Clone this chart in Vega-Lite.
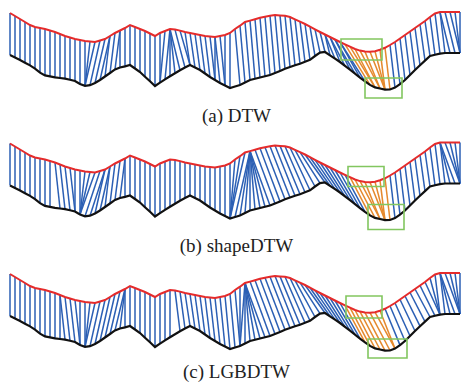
{
"$schema":"https://vega.github.io/schema/vega-lite/v6.json",
"padding":0,"spacing":30.5,"bounds":"flush",
"config":{"view":{"stroke":null},"title":{"font":"Liberation Serif","fontSize":19,"fontWeight":"normal","color":"#222","orient":"bottom","baseline":"alphabetic","dx":6}},
"datasets":{
"cur":[{"x":10,"ty":13,"by":55},{"x":15,"ty":16,"by":57.5},{"x":20,"ty":19,"by":60},{"x":25,"ty":22,"by":62.7},{"x":30,"ty":25,"by":65.4},{"x":35,"ty":27,"by":68.6},{"x":40,"ty":28,"by":72.6},{"x":45,"ty":29,"by":75.4},{"x":50,"ty":30.5,"by":76.4},{"x":55,"ty":32,"by":77.3},{"x":60,"ty":34,"by":78},{"x":65,"ty":36,"by":78.7},{"x":70,"ty":37.5,"by":79.8},{"x":75,"ty":39,"by":81},{"x":80,"ty":40,"by":84},{"x":85,"ty":41,"by":85.8},{"x":90,"ty":41.5,"by":85.2},{"x":95,"ty":42,"by":83},{"x":100,"ty":40.5,"by":80},{"x":105,"ty":39,"by":76.5},{"x":110,"ty":36,"by":73},{"x":115,"ty":33,"by":69.4},{"x":120,"ty":30.5,"by":67.5},{"x":125,"ty":28,"by":66.4},{"x":130,"ty":25,"by":65},{"x":135,"ty":27,"by":68.5},{"x":140,"ty":29,"by":72},{"x":145,"ty":31,"by":76.7},{"x":150,"ty":33.5,"by":81.3},{"x":155,"ty":36,"by":86},{"x":160,"ty":33,"by":82.7},{"x":165,"ty":31,"by":79.3},{"x":170,"ty":29,"by":76.2},{"x":175,"ty":29.6,"by":73.2},{"x":180,"ty":30.6,"by":70.2},{"x":185,"ty":32,"by":67.5},{"x":190,"ty":33,"by":65},{"x":195,"ty":34,"by":67.5},{"x":200,"ty":35,"by":70},{"x":205,"ty":36,"by":73.5},{"x":210,"ty":36.5,"by":77},{"x":215,"ty":37,"by":80},{"x":220,"ty":36,"by":83},{"x":225,"ty":35,"by":85.5},{"x":230,"ty":33,"by":88},{"x":235,"ty":29,"by":86.5},{"x":240,"ty":25.7,"by":85},{"x":245,"ty":22,"by":82.5},{"x":250,"ty":20.6,"by":80},{"x":255,"ty":19.2,"by":78.8},{"x":260,"ty":17.8,"by":77.5},{"x":265,"ty":16.7,"by":76.3},{"x":270,"ty":15.8,"by":75},{"x":275,"ty":15,"by":73},{"x":280,"ty":15.4,"by":70.9},{"x":285,"ty":15.8,"by":68.8},{"x":290,"ty":17,"by":67},{"x":295,"ty":19.3,"by":65.3},{"x":300,"ty":21.6,"by":63.7},{"x":305,"ty":24,"by":61.8},{"x":310,"ty":26.7,"by":59.8},{"x":315,"ty":29.4,"by":56},{"x":320,"ty":32,"by":52.6},{"x":325,"ty":34.5,"by":52},{"x":330,"ty":37,"by":55.3},{"x":335,"ty":39.5,"by":58.7},{"x":340,"ty":42,"by":62},{"x":345,"ty":44.4,"by":65.8},{"x":350,"ty":46.7,"by":69.7},{"x":355,"ty":49,"by":73.6},{"x":360,"ty":50.6,"by":77.6},{"x":365,"ty":51.6,"by":81.4},{"x":370,"ty":51.7,"by":84.9},{"x":375,"ty":51.2,"by":87.4},{"x":380,"ty":49.8,"by":88.5},{"x":385,"ty":47.8,"by":89.6},{"x":390,"ty":45,"by":89.5},{"x":395,"ty":42,"by":87.6},{"x":400,"ty":38.5,"by":84.1},{"x":405,"ty":35,"by":80},{"x":410,"ty":31.5,"by":75},{"x":415,"ty":28,"by":70},{"x":420,"ty":24.5,"by":65.2},{"x":425,"ty":21,"by":60.6},{"x":430,"ty":17,"by":56},{"x":435,"ty":13.5,"by":54.8},{"x":440,"ty":12,"by":53.7},{"x":445,"ty":12,"by":53},{"x":450,"ty":12,"by":53},{"x":455,"ty":12,"by":53},{"x":460,"ty":12,"by":53}],
"al":[
{"p":"a","t":10,"b":10,"c":"b"},{"p":"a","t":15,"b":15,"c":"b"},{"p":"a","t":20,"b":20,"c":"b"},{"p":"a","t":25,"b":25,"c":"b"},{"p":"a","t":30,"b":30,"c":"b"},{"p":"a","t":35,"b":35,"c":"b"},{"p":"a","t":40,"b":40,"c":"b"},{"p":"a","t":45,"b":45,"c":"b"},{"p":"a","t":50,"b":50,"c":"b"},{"p":"a","t":55,"b":55,"c":"b"},{"p":"a","t":60,"b":60,"c":"b"},{"p":"a","t":65,"b":65,"c":"b"},{"p":"a","t":70,"b":70,"c":"b"},{"p":"a","t":75,"b":75,"c":"b"},{"p":"a","t":80,"b":80,"c":"b"},{"p":"a","t":85,"b":85,"c":"b"},{"p":"a","t":90,"b":85,"c":"b"},{"p":"a","t":95,"b":85,"c":"b"},{"p":"a","t":100,"b":90,"c":"b"},{"p":"a","t":105,"b":95,"c":"b"},{"p":"a","t":110,"b":100,"c":"b"},{"p":"a","t":110,"b":105,"c":"b"},{"p":"a","t":115,"b":110,"c":"b"},{"p":"a","t":120,"b":115,"c":"b"},{"p":"a","t":120,"b":120,"c":"b"},{"p":"a","t":125,"b":125,"c":"b"},{"p":"a","t":130,"b":130,"c":"b"},{"p":"a","t":135,"b":135,"c":"b"},{"p":"a","t":140,"b":140,"c":"b"},{"p":"a","t":145,"b":145,"c":"b"},{"p":"a","t":150,"b":150,"c":"b"},{"p":"a","t":155,"b":155,"c":"b"},{"p":"a","t":160,"b":160,"c":"b"},{"p":"a","t":165,"b":160,"c":"b"},{"p":"a","t":170,"b":165,"c":"b"},{"p":"a","t":170,"b":170,"c":"b"},{"p":"a","t":170,"b":175,"c":"b"},{"p":"a","t":170,"b":180,"c":"b"},{"p":"a","t":175,"b":185,"c":"b"},{"p":"a","t":180,"b":190,"c":"b"},{"p":"a","t":185,"b":190,"c":"b"},{"p":"a","t":190,"b":195,"c":"b"},{"p":"a","t":195,"b":200,"c":"b"},{"p":"a","t":200,"b":205,"c":"b"},{"p":"a","t":205,"b":210,"c":"b"},{"p":"a","t":210,"b":215,"c":"b"},{"p":"a","t":215,"b":215,"c":"b"},{"p":"a","t":215,"b":220,"c":"b"},{"p":"a","t":220,"b":225,"c":"b"},{"p":"a","t":225,"b":225,"c":"b"},{"p":"a","t":230,"b":230,"c":"b"},{"p":"a","t":235,"b":240,"c":"b"},{"p":"a","t":240,"b":245,"c":"b"},{"p":"a","t":245,"b":250,"c":"b"},{"p":"a","t":250,"b":255,"c":"b"},{"p":"a","t":255,"b":260,"c":"b"},{"p":"a","t":260,"b":265,"c":"b"},{"p":"a","t":265,"b":270,"c":"b"},{"p":"a","t":270,"b":275,"c":"b"},{"p":"a","t":275,"b":280,"c":"b"},{"p":"a","t":280,"b":285,"c":"b"},{"p":"a","t":285,"b":290,"c":"b"},{"p":"a","t":290,"b":295,"c":"b"},{"p":"a","t":295,"b":300,"c":"b"},{"p":"a","t":300,"b":305,"c":"b"},{"p":"a","t":305,"b":310,"c":"b"},{"p":"a","t":310,"b":315,"c":"b"},{"p":"a","t":315,"b":320,"c":"b"},{"p":"a","t":320,"b":325,"c":"b"},{"p":"a","t":325,"b":330,"c":"b"},{"p":"a","t":325,"b":335,"c":"b"},{"p":"a","t":330,"b":340,"c":"b"},{"p":"a","t":330,"b":345,"c":"b"},{"p":"a","t":335,"b":350,"c":"b"},{"p":"a","t":335,"b":355,"c":"b"},{"p":"a","t":340,"b":360,"c":"b"},{"p":"a","t":340,"b":365,"c":"b"},
{"p":"a","t":345,"b":370,"c":"o"},{"p":"a","t":350,"b":375,"c":"o"},{"p":"a","t":355,"b":375,"c":"o"},{"p":"a","t":360,"b":380,"c":"o"},{"p":"a","t":365,"b":380,"c":"o"},{"p":"a","t":370,"b":385,"c":"o"},{"p":"a","t":375,"b":385,"c":"o"},{"p":"a","t":380,"b":385,"c":"o"},{"p":"a","t":385,"b":390,"c":"o"},
{"p":"a","t":390,"b":395,"c":"b"},{"p":"a","t":395,"b":400,"c":"b"},{"p":"a","t":400,"b":405,"c":"b"},{"p":"a","t":405,"b":410,"c":"b"},{"p":"a","t":410,"b":415,"c":"b"},{"p":"a","t":415,"b":420,"c":"b"},{"p":"a","t":420,"b":425,"c":"b"},{"p":"a","t":425,"b":430,"c":"b"},{"p":"a","t":430,"b":435,"c":"b"},{"p":"a","t":435,"b":440,"c":"b"},{"p":"a","t":440,"b":445,"c":"b"},{"p":"a","t":440,"b":450,"c":"b"},{"p":"a","t":445,"b":455,"c":"b"},{"p":"a","t":450,"b":460,"c":"b"},{"p":"a","t":455,"b":460,"c":"b"},{"p":"a","t":460,"b":460,"c":"b"},
{"p":"b","t":10,"b":10,"c":"b"},{"p":"b","t":15,"b":15,"c":"b"},{"p":"b","t":20,"b":20,"c":"b"},{"p":"b","t":25,"b":25,"c":"b"},{"p":"b","t":30,"b":30,"c":"b"},{"p":"b","t":35,"b":35,"c":"b"},{"p":"b","t":40,"b":40,"c":"b"},{"p":"b","t":45,"b":45,"c":"b"},{"p":"b","t":50,"b":50,"c":"b"},{"p":"b","t":55,"b":60,"c":"b"},{"p":"b","t":60,"b":65,"c":"b"},{"p":"b","t":65,"b":70,"c":"b"},{"p":"b","t":70,"b":75,"c":"b"},{"p":"b","t":75,"b":75,"c":"b"},{"p":"b","t":80,"b":80,"c":"b"},{"p":"b","t":85,"b":80,"c":"b"},{"p":"b","t":90,"b":80,"c":"b"},{"p":"b","t":95,"b":80,"c":"b"},{"p":"b","t":100,"b":85,"c":"b"},{"p":"b","t":105,"b":90,"c":"b"},{"p":"b","t":105,"b":95,"c":"b"},{"p":"b","t":110,"b":100,"c":"b"},{"p":"b","t":110,"b":105,"c":"b"},{"p":"b","t":115,"b":110,"c":"b"},{"p":"b","t":120,"b":115,"c":"b"},{"p":"b","t":125,"b":120,"c":"b"},{"p":"b","t":125,"b":125,"c":"b"},{"p":"b","t":130,"b":130,"c":"b"},{"p":"b","t":135,"b":135,"c":"b"},{"p":"b","t":140,"b":140,"c":"b"},{"p":"b","t":145,"b":145,"c":"b"},{"p":"b","t":150,"b":150,"c":"b"},{"p":"b","t":155,"b":155,"c":"b"},{"p":"b","t":160,"b":160,"c":"b"},{"p":"b","t":165,"b":165,"c":"b"},{"p":"b","t":170,"b":170,"c":"b"},{"p":"b","t":175,"b":175,"c":"b"},{"p":"b","t":180,"b":180,"c":"b"},{"p":"b","t":185,"b":185,"c":"b"},{"p":"b","t":190,"b":190,"c":"b"},{"p":"b","t":195,"b":195,"c":"b"},{"p":"b","t":200,"b":200,"c":"b"},{"p":"b","t":205,"b":205,"c":"b"},{"p":"b","t":210,"b":210,"c":"b"},{"p":"b","t":215,"b":215,"c":"b"},{"p":"b","t":220,"b":220,"c":"b"},{"p":"b","t":225,"b":225,"c":"b"},{"p":"b","t":230,"b":230,"c":"b"},{"p":"b","t":235,"b":230,"c":"b"},{"p":"b","t":240,"b":230,"c":"b"},{"p":"b","t":245,"b":230,"c":"b"},{"p":"b","t":250,"b":235,"c":"b"},{"p":"b","t":250,"b":240,"c":"b"},{"p":"b","t":250,"b":245,"c":"b"},{"p":"b","t":250,"b":250,"c":"b"},{"p":"b","t":250,"b":255,"c":"b"},{"p":"b","t":250,"b":260,"c":"b"},{"p":"b","t":250,"b":265,"c":"b"},{"p":"b","t":250,"b":270,"c":"b"},{"p":"b","t":255,"b":275,"c":"b"},{"p":"b","t":260,"b":280,"c":"b"},{"p":"b","t":265,"b":285,"c":"b"},{"p":"b","t":270,"b":290,"c":"b"},{"p":"b","t":275,"b":295,"c":"b"},{"p":"b","t":280,"b":300,"c":"b"},{"p":"b","t":285,"b":305,"c":"b"},{"p":"b","t":290,"b":310,"c":"b"},{"p":"b","t":295,"b":315,"c":"b"},{"p":"b","t":300,"b":320,"c":"b"},{"p":"b","t":305,"b":325,"c":"b"},{"p":"b","t":310,"b":330,"c":"b"},{"p":"b","t":315,"b":335,"c":"b"},{"p":"b","t":320,"b":340,"c":"b"},{"p":"b","t":325,"b":345,"c":"b"},{"p":"b","t":330,"b":350,"c":"b"},{"p":"b","t":335,"b":355,"c":"b"},{"p":"b","t":340,"b":360,"c":"b"},{"p":"b","t":345,"b":365,"c":"b"},
{"p":"b","t":350,"b":370,"c":"o"},{"p":"b","t":355,"b":375,"c":"o"},{"p":"b","t":360,"b":380,"c":"o"},{"p":"b","t":365,"b":380,"c":"o"},{"p":"b","t":370,"b":385,"c":"o"},{"p":"b","t":375,"b":385,"c":"o"},{"p":"b","t":380,"b":385,"c":"o"},{"p":"b","t":385,"b":390,"c":"o"},
{"p":"b","t":390,"b":395,"c":"b"},{"p":"b","t":395,"b":400,"c":"b"},{"p":"b","t":400,"b":405,"c":"b"},{"p":"b","t":405,"b":410,"c":"b"},{"p":"b","t":410,"b":415,"c":"b"},{"p":"b","t":415,"b":420,"c":"b"},{"p":"b","t":420,"b":425,"c":"b"},{"p":"b","t":425,"b":430,"c":"b"},{"p":"b","t":430,"b":435,"c":"b"},{"p":"b","t":435,"b":440,"c":"b"},{"p":"b","t":440,"b":445,"c":"b"},{"p":"b","t":440,"b":450,"c":"b"},{"p":"b","t":440,"b":455,"c":"b"},{"p":"b","t":445,"b":460,"c":"b"},{"p":"b","t":450,"b":460,"c":"b"},{"p":"b","t":455,"b":460,"c":"b"},{"p":"b","t":460,"b":460,"c":"b"},
{"p":"c","t":10,"b":10,"c":"b"},{"p":"c","t":15,"b":15,"c":"b"},{"p":"c","t":20,"b":20,"c":"b"},{"p":"c","t":25,"b":25,"c":"b"},{"p":"c","t":30,"b":30,"c":"b"},{"p":"c","t":35,"b":35,"c":"b"},{"p":"c","t":40,"b":40,"c":"b"},{"p":"c","t":45,"b":45,"c":"b"},{"p":"c","t":50,"b":50,"c":"b"},{"p":"c","t":55,"b":55,"c":"b"},{"p":"c","t":60,"b":60,"c":"b"},{"p":"c","t":60,"b":65,"c":"b"},{"p":"c","t":65,"b":70,"c":"b"},{"p":"c","t":70,"b":75,"c":"b"},{"p":"c","t":75,"b":80,"c":"b"},{"p":"c","t":80,"b":80,"c":"b"},{"p":"c","t":85,"b":85,"c":"b"},{"p":"c","t":90,"b":85,"c":"b"},{"p":"c","t":95,"b":85,"c":"b"},{"p":"c","t":100,"b":90,"c":"b"},{"p":"c","t":105,"b":95,"c":"b"},{"p":"c","t":110,"b":100,"c":"b"},{"p":"c","t":115,"b":105,"c":"b"},{"p":"c","t":120,"b":110,"c":"b"},{"p":"c","t":125,"b":115,"c":"b"},{"p":"c","t":125,"b":120,"c":"b"},{"p":"c","t":125,"b":125,"c":"b"},{"p":"c","t":130,"b":130,"c":"b"},{"p":"c","t":135,"b":135,"c":"b"},{"p":"c","t":140,"b":140,"c":"b"},{"p":"c","t":145,"b":145,"c":"b"},{"p":"c","t":150,"b":150,"c":"b"},{"p":"c","t":155,"b":155,"c":"b"},{"p":"c","t":160,"b":160,"c":"b"},{"p":"c","t":165,"b":165,"c":"b"},{"p":"c","t":170,"b":170,"c":"b"},{"p":"c","t":175,"b":180,"c":"b"},{"p":"c","t":180,"b":185,"c":"b"},{"p":"c","t":185,"b":190,"c":"b"},{"p":"c","t":190,"b":195,"c":"b"},{"p":"c","t":195,"b":200,"c":"b"},{"p":"c","t":200,"b":205,"c":"b"},{"p":"c","t":205,"b":210,"c":"b"},{"p":"c","t":210,"b":215,"c":"b"},{"p":"c","t":215,"b":220,"c":"b"},{"p":"c","t":220,"b":225,"c":"b"},{"p":"c","t":225,"b":230,"c":"b"},{"p":"c","t":230,"b":235,"c":"b"},{"p":"c","t":235,"b":240,"c":"b"},{"p":"c","t":240,"b":240,"c":"b"},{"p":"c","t":245,"b":240,"c":"b"},{"p":"c","t":245,"b":245,"c":"b"},{"p":"c","t":245,"b":250,"c":"b"},{"p":"c","t":245,"b":255,"c":"b"},{"p":"c","t":245,"b":260,"c":"b"},{"p":"c","t":245,"b":265,"c":"b"},{"p":"c","t":250,"b":270,"c":"b"},{"p":"c","t":255,"b":275,"c":"b"},{"p":"c","t":260,"b":280,"c":"b"},{"p":"c","t":265,"b":285,"c":"b"},{"p":"c","t":270,"b":290,"c":"b"},{"p":"c","t":275,"b":295,"c":"b"},{"p":"c","t":280,"b":300,"c":"b"},{"p":"c","t":285,"b":305,"c":"b"},{"p":"c","t":290,"b":310,"c":"b"},{"p":"c","t":295,"b":315,"c":"b"},{"p":"c","t":300,"b":320,"c":"b"},{"p":"c","t":305,"b":325,"c":"b"},{"p":"c","t":310,"b":330,"c":"b"},{"p":"c","t":315,"b":335,"c":"b"},{"p":"c","t":320,"b":340,"c":"b"},{"p":"c","t":325,"b":345,"c":"b"},{"p":"c","t":330,"b":350,"c":"b"},{"p":"c","t":335,"b":355,"c":"b"},{"p":"c","t":340,"b":360,"c":"b"},
{"p":"c","t":345,"b":365,"c":"o"},{"p":"c","t":350,"b":370,"c":"o"},{"p":"c","t":355,"b":375,"c":"o"},{"p":"c","t":360,"b":380,"c":"o"},{"p":"c","t":365,"b":385,"c":"o"},{"p":"c","t":370,"b":390,"c":"o"},{"p":"c","t":375,"b":395,"c":"o"},{"p":"c","t":380,"b":395,"c":"o"},
{"p":"c","t":385,"b":400,"c":"b"},{"p":"c","t":390,"b":405,"c":"b"},{"p":"c","t":395,"b":410,"c":"b"},{"p":"c","t":400,"b":415,"c":"b"},{"p":"c","t":405,"b":420,"c":"b"},{"p":"c","t":410,"b":425,"c":"b"},{"p":"c","t":415,"b":430,"c":"b"},{"p":"c","t":420,"b":435,"c":"b"},{"p":"c","t":425,"b":440,"c":"b"},{"p":"c","t":430,"b":440,"c":"b"},{"p":"c","t":435,"b":440,"c":"b"},{"p":"c","t":440,"b":445,"c":"b"},{"p":"c","t":440,"b":450,"c":"b"},{"p":"c","t":440,"b":455,"c":"b"},{"p":"c","t":445,"b":460,"c":"b"},{"p":"c","t":450,"b":460,"c":"b"},{"p":"c","t":455,"b":460,"c":"b"},{"p":"c","t":460,"b":460,"c":"b"}
],
"box":[{"p":"a","x1":341,"x2":382,"y1":39,"y2":60},{"p":"a","x1":365,"x2":402,"y1":78,"y2":98},{"p":"b","x1":348,"x2":384,"y1":36,"y2":56},{"p":"b","x1":368,"x2":404,"y1":74,"y2":99},{"p":"c","x1":346,"x2":382,"y1":35,"y2":57},{"p":"c","x1":368,"x2":407,"y1":78,"y2":97}]
},
"data":{"name":"al"},
"transform":[
{"lookup":"t","from":{"data":{"values":[{"x":10,"y":13},{"x":15,"y":16},{"x":20,"y":19},{"x":25,"y":22},{"x":30,"y":25},{"x":35,"y":27},{"x":40,"y":28},{"x":45,"y":29},{"x":50,"y":30.5},{"x":55,"y":32},{"x":60,"y":34},{"x":65,"y":36},{"x":70,"y":37.5},{"x":75,"y":39},{"x":80,"y":40},{"x":85,"y":41},{"x":90,"y":41.5},{"x":95,"y":42},{"x":100,"y":40.5},{"x":105,"y":39},{"x":110,"y":36},{"x":115,"y":33},{"x":120,"y":30.5},{"x":125,"y":28},{"x":130,"y":25},{"x":135,"y":27},{"x":140,"y":29},{"x":145,"y":31},{"x":150,"y":33.5},{"x":155,"y":36},{"x":160,"y":33},{"x":165,"y":31},{"x":170,"y":29},{"x":175,"y":29.6},{"x":180,"y":30.6},{"x":185,"y":32},{"x":190,"y":33},{"x":195,"y":34},{"x":200,"y":35},{"x":205,"y":36},{"x":210,"y":36.5},{"x":215,"y":37},{"x":220,"y":36},{"x":225,"y":35},{"x":230,"y":33},{"x":235,"y":29},{"x":240,"y":25.7},{"x":245,"y":22},{"x":250,"y":20.6},{"x":255,"y":19.2},{"x":260,"y":17.8},{"x":265,"y":16.7},{"x":270,"y":15.8},{"x":275,"y":15},{"x":280,"y":15.4},{"x":285,"y":15.8},{"x":290,"y":17},{"x":295,"y":19.3},{"x":300,"y":21.6},{"x":305,"y":24},{"x":310,"y":26.7},{"x":315,"y":29.4},{"x":320,"y":32},{"x":325,"y":34.5},{"x":330,"y":37},{"x":335,"y":39.5},{"x":340,"y":42},{"x":345,"y":44.4},{"x":350,"y":46.7},{"x":355,"y":49},{"x":360,"y":50.6},{"x":365,"y":51.6},{"x":370,"y":51.7},{"x":375,"y":51.2},{"x":380,"y":49.8},{"x":385,"y":47.8},{"x":390,"y":45},{"x":395,"y":42},{"x":400,"y":38.5},{"x":405,"y":35},{"x":410,"y":31.5},{"x":415,"y":28},{"x":420,"y":24.5},{"x":425,"y":21},{"x":430,"y":17},{"x":435,"y":13.5},{"x":440,"y":12},{"x":445,"y":12},{"x":450,"y":12},{"x":455,"y":12},{"x":460,"y":12}]},"key":"x","fields":["y"]},"as":["ty"]},
{"lookup":"b","from":{"data":{"values":[{"x":10,"y":55},{"x":15,"y":57.5},{"x":20,"y":60},{"x":25,"y":62.7},{"x":30,"y":65.4},{"x":35,"y":68.6},{"x":40,"y":72.6},{"x":45,"y":75.4},{"x":50,"y":76.4},{"x":55,"y":77.3},{"x":60,"y":78},{"x":65,"y":78.7},{"x":70,"y":79.8},{"x":75,"y":81},{"x":80,"y":84},{"x":85,"y":85.8},{"x":90,"y":85.2},{"x":95,"y":83},{"x":100,"y":80},{"x":105,"y":76.5},{"x":110,"y":73},{"x":115,"y":69.4},{"x":120,"y":67.5},{"x":125,"y":66.4},{"x":130,"y":65},{"x":135,"y":68.5},{"x":140,"y":72},{"x":145,"y":76.7},{"x":150,"y":81.3},{"x":155,"y":86},{"x":160,"y":82.7},{"x":165,"y":79.3},{"x":170,"y":76.2},{"x":175,"y":73.2},{"x":180,"y":70.2},{"x":185,"y":67.5},{"x":190,"y":65},{"x":195,"y":67.5},{"x":200,"y":70},{"x":205,"y":73.5},{"x":210,"y":77},{"x":215,"y":80},{"x":220,"y":83},{"x":225,"y":85.5},{"x":230,"y":88},{"x":235,"y":86.5},{"x":240,"y":85},{"x":245,"y":82.5},{"x":250,"y":80},{"x":255,"y":78.8},{"x":260,"y":77.5},{"x":265,"y":76.3},{"x":270,"y":75},{"x":275,"y":73},{"x":280,"y":70.9},{"x":285,"y":68.8},{"x":290,"y":67},{"x":295,"y":65.3},{"x":300,"y":63.7},{"x":305,"y":61.8},{"x":310,"y":59.8},{"x":315,"y":56},{"x":320,"y":52.6},{"x":325,"y":52},{"x":330,"y":55.3},{"x":335,"y":58.7},{"x":340,"y":62},{"x":345,"y":65.8},{"x":350,"y":69.7},{"x":355,"y":73.6},{"x":360,"y":77.6},{"x":365,"y":81.4},{"x":370,"y":84.9},{"x":375,"y":87.4},{"x":380,"y":88.5},{"x":385,"y":89.6},{"x":390,"y":89.5},{"x":395,"y":87.6},{"x":400,"y":84.1},{"x":405,"y":80},{"x":410,"y":75},{"x":415,"y":70},{"x":420,"y":65.2},{"x":425,"y":60.6},{"x":430,"y":56},{"x":435,"y":54.8},{"x":440,"y":53.7},{"x":445,"y":53},{"x":450,"y":53},{"x":455,"y":53},{"x":460,"y":53}]},"key":"x","fields":["y"]},"as":["by"]}
],
"vconcat":[
{"width":461,"height":100,"title":{"text":"(a) DTW","offset":7},
"layer":[
{"transform":[{"filter":"datum.p=='a'"}],"mark":{"type":"rule","strokeWidth":1.5},
"encoding":{"x":{"field":"t","type":"quantitative","scale":{"domain":[0,461],"nice":false,"zero":false},"axis":null},"y":{"field":"ty","type":"quantitative","scale":{"domain":[0,100],"reverse":true,"nice":false,"zero":false},"axis":null},"x2":{"field":"b"},"y2":{"field":"by"},"color":{"field":"c","type":"nominal","scale":{"domain":["b","o"],"range":["#2b5fb4","#e5892d"]},"legend":null}}},
{"data":{"name":"cur"},"mark":{"type":"line","color":"#e52b2b","strokeWidth":2},"encoding":{"x":{"field":"x","type":"quantitative"},"y":{"field":"ty","type":"quantitative"}}},
{"data":{"name":"cur"},"mark":{"type":"line","color":"#111111","strokeWidth":2.2},"encoding":{"x":{"field":"x","type":"quantitative"},"y":{"field":"by","type":"quantitative"}}},
{"data":{"name":"box"},"transform":[{"filter":"datum.p=='a'"}],"mark":{"type":"rect","filled":false,"stroke":"#82c65f","strokeWidth":1.6},"encoding":{"x":{"field":"x1","type":"quantitative"},"x2":{"field":"x2"},"y":{"field":"y1","type":"quantitative"},"y2":{"field":"y2"}}}
]},
{"width":461,"height":100,"title":{"text":"(b) shapeDTW","offset":6},
"layer":[
{"transform":[{"filter":"datum.p=='b'"}],"mark":{"type":"rule","strokeWidth":1.5},
"encoding":{"x":{"field":"t","type":"quantitative","scale":{"domain":[0,461],"nice":false,"zero":false},"axis":null},"y":{"field":"ty","type":"quantitative","scale":{"domain":[0,100],"reverse":true,"nice":false,"zero":false},"axis":null},"x2":{"field":"b"},"y2":{"field":"by"},"color":{"field":"c","type":"nominal","scale":{"domain":["b","o"],"range":["#2b5fb4","#e5892d"]},"legend":null}}},
{"data":{"name":"cur"},"mark":{"type":"line","color":"#e52b2b","strokeWidth":2},"encoding":{"x":{"field":"x","type":"quantitative"},"y":{"field":"ty","type":"quantitative"}}},
{"data":{"name":"cur"},"mark":{"type":"line","color":"#111111","strokeWidth":2.2},"encoding":{"x":{"field":"x","type":"quantitative"},"y":{"field":"by","type":"quantitative"}}},
{"data":{"name":"box"},"transform":[{"filter":"datum.p=='b'"}],"mark":{"type":"rect","filled":false,"stroke":"#82c65f","strokeWidth":1.6},"encoding":{"x":{"field":"x1","type":"quantitative"},"x2":{"field":"x2"},"y":{"field":"y1","type":"quantitative"},"y2":{"field":"y2"}}}
]},
{"width":461,"height":100,"title":{"text":"(c) LGBDTW","offset":2},
"layer":[
{"transform":[{"filter":"datum.p=='c'"}],"mark":{"type":"rule","strokeWidth":1.5},
"encoding":{"x":{"field":"t","type":"quantitative","scale":{"domain":[0,461],"nice":false,"zero":false},"axis":null},"y":{"field":"ty","type":"quantitative","scale":{"domain":[0,100],"reverse":true,"nice":false,"zero":false},"axis":null},"x2":{"field":"b"},"y2":{"field":"by"},"color":{"field":"c","type":"nominal","scale":{"domain":["b","o"],"range":["#2b5fb4","#e5892d"]},"legend":null}}},
{"data":{"name":"cur"},"mark":{"type":"line","color":"#e52b2b","strokeWidth":2},"encoding":{"x":{"field":"x","type":"quantitative"},"y":{"field":"ty","type":"quantitative"}}},
{"data":{"name":"cur"},"mark":{"type":"line","color":"#111111","strokeWidth":2.2},"encoding":{"x":{"field":"x","type":"quantitative"},"y":{"field":"by","type":"quantitative"}}},
{"data":{"name":"box"},"transform":[{"filter":"datum.p=='c'"}],"mark":{"type":"rect","filled":false,"stroke":"#82c65f","strokeWidth":1.6},"encoding":{"x":{"field":"x1","type":"quantitative"},"x2":{"field":"x2"},"y":{"field":"y1","type":"quantitative"},"y2":{"field":"y2"}}}
]}
]
}
